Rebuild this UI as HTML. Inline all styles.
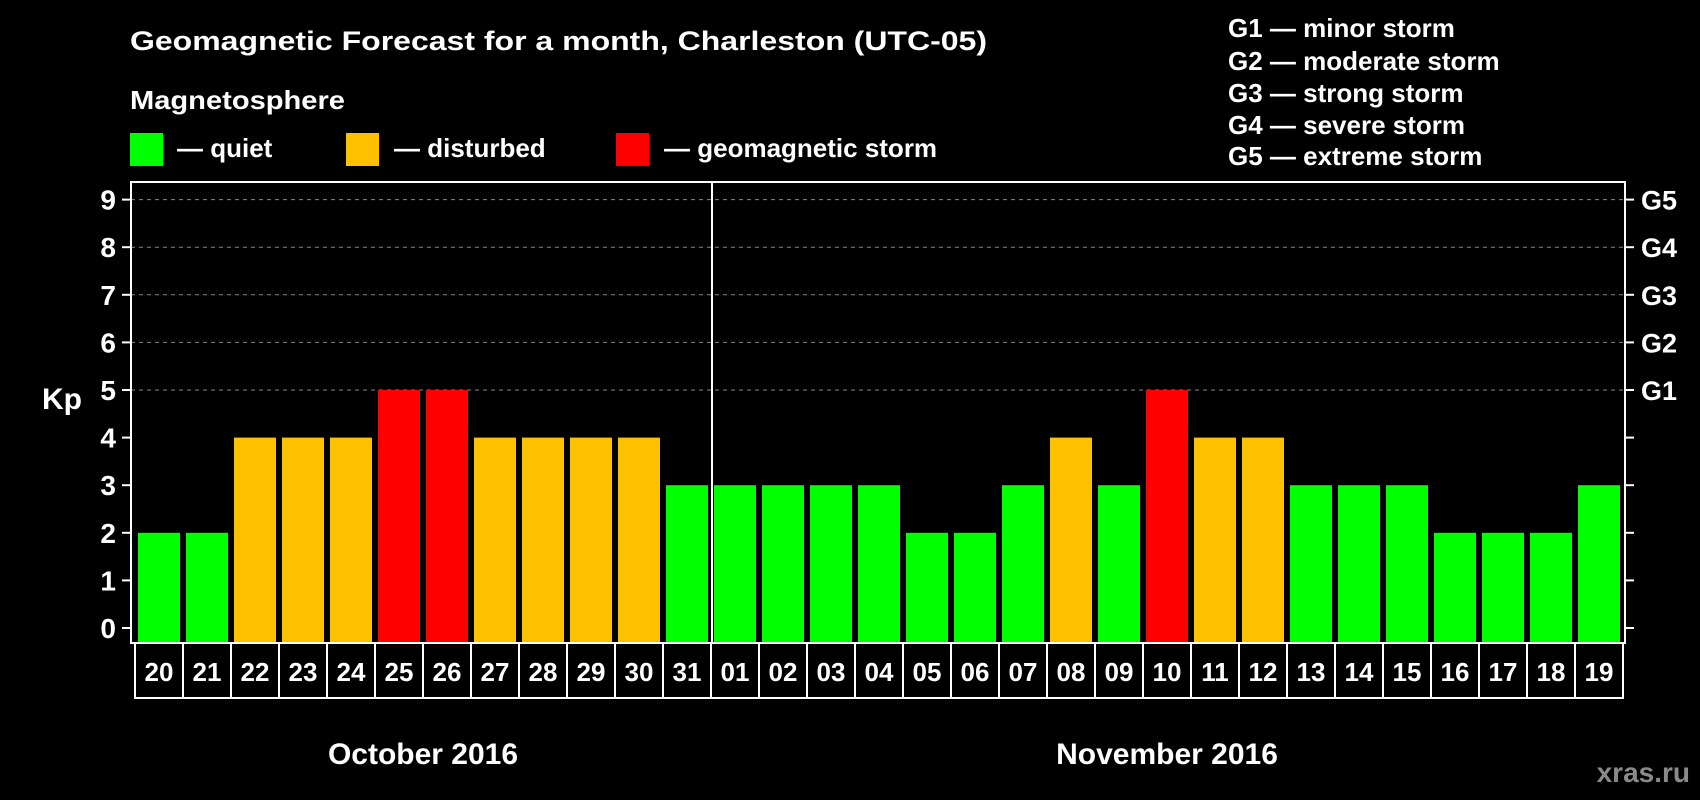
<!DOCTYPE html>
<html><head><meta charset="utf-8"><style>
html,body{margin:0;padding:0;background:#000;}
svg{display:block;font-family:"Liberation Sans",Arial,sans-serif;font-weight:bold;}
</style></head><body>
<svg id="chart" width="1700" height="800" viewBox="0 0 1700 800">
<rect width="1700" height="800" fill="#000"/>
<text x="130" y="50" fill="#fff" font-size="27" textLength="857" lengthAdjust="spacingAndGlyphs">Geomagnetic Forecast for a month, Charleston (UTC-05)</text>
<text x="130" y="109" fill="#fff" font-size="26" textLength="215" lengthAdjust="spacingAndGlyphs">Magnetosphere</text>
<g><rect x="130" y="133" width="33" height="33" fill="#00ff00"/><text x="177" y="157" fill="#fff" font-size="26">— quiet</text></g>
<g><rect x="346" y="133" width="33" height="33" fill="#ffc000"/><text x="394" y="157" fill="#fff" font-size="26">— disturbed</text></g>
<g><rect x="616" y="133" width="33" height="33" fill="#ff0000"/><text x="664" y="157" fill="#fff" font-size="26">— geomagnetic storm</text></g>
<g fill="#fff" font-size="26">
<text x="1228" y="37">G1 — minor storm</text>
<text x="1228" y="70">G2 — moderate storm</text>
<text x="1228" y="102">G3 — strong storm</text>
<text x="1228" y="134">G4 — severe storm</text>
<text x="1228" y="165">G5 — extreme storm</text>
</g>
<g id="grid"></g>
<g id="bars"></g>
<g id="axes"></g>
<text x="62" y="409" fill="#fff" font-size="30" text-anchor="middle">Kp</text>
<text x="423" y="764" fill="#fff" font-size="30" text-anchor="middle">October 2016</text>
<text x="1167" y="764" fill="#fff" font-size="30" text-anchor="middle">November 2016</text>
<text x="1690" y="782" fill="#8a8a8a" font-size="28" text-anchor="end">xras.ru</text>
</svg>
<script>
const days = ["20","21","22","23","24","25","26","27","28","29","30","31","01","02","03","04","05","06","07","08","09","10","11","12","13","14","15","16","17","18","19"];
const kpValues = [2,2,4,4,4,5,5,4,4,4,4,3,3,3,3,3,2,2,3,4,3,5,4,4,3,3,3,2,2,2,3];
const yTicks = [0,1,2,3,4,5,6,7,8,9];
const gLabels = ["G1","G2","G3","G4","G5"];
const monthBreakIndex = 12;

const NS="http://www.w3.org/2000/svg";
const plotLeft=131,plotRight=1625,plotTop=182,plotBottom=643,cellX0=135,pitch=48;
const yScale=v=>628-v*47.6;
const xScale=i=>cellX0+i*pitch;
function mk(tag,attrs,parent){const e=document.createElementNS(NS,tag);for(const k in attrs)e.setAttribute(k,attrs[k]);parent.appendChild(e);return e;}
const grid=document.getElementById('grid'),bars=document.getElementById('bars'),axes=document.getElementById('axes');
yTicks.forEach(t=>{
  if(t>=5){const l=mk('line',{x1:plotLeft,x2:plotRight,y1:yScale(t),y2:yScale(t),stroke:'#888','stroke-dasharray':'4 4','stroke-width':1},grid);
    
    }
  const tk=mk('line',{x1:plotLeft-9,x2:plotLeft,y1:yScale(t),y2:yScale(t),stroke:'#fff','stroke-width':2},axes);
  
  
  const tr=mk('line',{x1:plotRight,x2:plotRight+9,y1:yScale(t),y2:yScale(t),stroke:'#fff','stroke-width':2},axes);
  
  
  const lb=mk('text',{x:116,y:yScale(t)+10,fill:'#fff','font-size':28,'text-anchor':'end'},axes);
  lb.textContent=t;
  
  
});
gLabels.forEach((g,i)=>{
  const lb=mk('text',{x:1641,y:yScale(5+i)+10,fill:'#fff','font-size':27},axes);
  lb.textContent=g;
  
  
});
kpValues.forEach((v,i)=>{
  const c=v>=5?'#ff0000':(v>=4?'#ffc000':'#00ff00');
  const b=mk('rect',{x:xScale(i)+3,y:yScale(v),width:42,height:plotBottom-yScale(v),fill:c},bars);
  
  
  const cell=mk('rect',{x:xScale(i),y:plotBottom,width:pitch,height:55,fill:'none',stroke:'#fff','stroke-width':2},axes);
  
  
  const t=mk('text',{x:xScale(i)+pitch/2,y:plotBottom+38,fill:'#fff','font-size':26,'text-anchor':'middle'},axes);
  t.textContent=days[i];
  
  
});
const frame=mk('rect',{x:plotLeft,y:plotTop,width:plotRight-plotLeft,height:plotBottom-plotTop,fill:'none',stroke:'#fff','stroke-width':2},axes);


const sep=mk('line',{x1:xScale(monthBreakIndex)+1,x2:xScale(monthBreakIndex)+1,y1:plotTop,y2:plotBottom,stroke:'#fff','stroke-width':2},axes);


</script>
</body></html>
